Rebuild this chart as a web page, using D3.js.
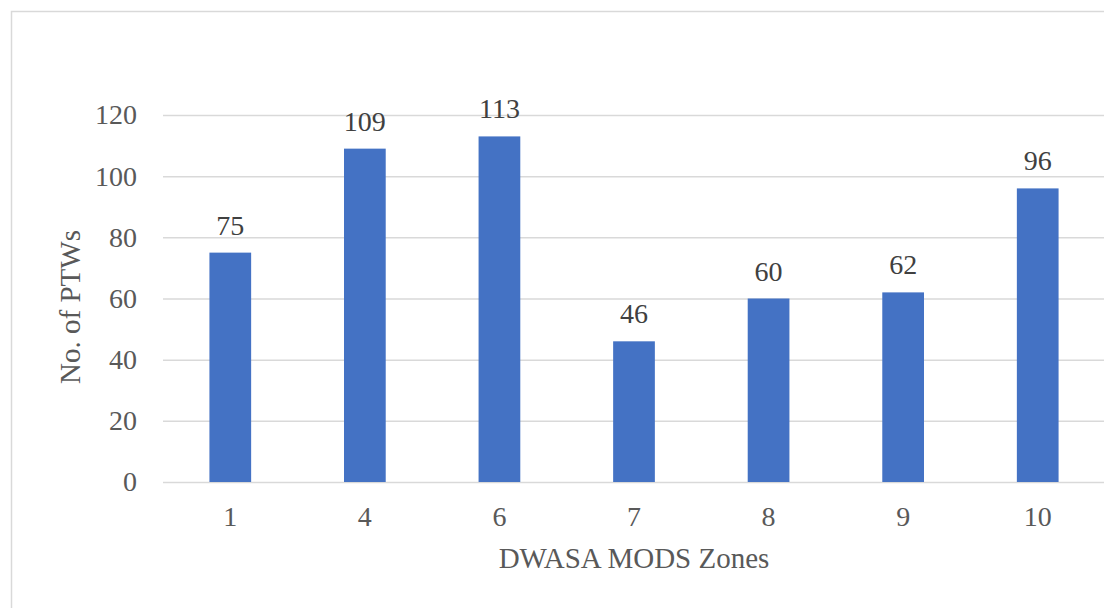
<!DOCTYPE html>
<html>
<head>
<meta charset="utf-8">
<script src="https://d3js.org/d3.v7.min.js"></script>
<style>
  body { margin: 0; background: #fff; }
  text { font-family: "Liberation Serif", "Times New Roman", serif; }
</style>
</head>
<body>
<svg id="chart"></svg>
<script>
// chart data
var zones = ["1", "4", "6", "7", "8", "9", "10"];
var ptws = [75, 109, 113, 46, 60, 62, 96];
var yTicks = [0, 20, 40, 60, 80, 100, 120];

var W = 1104, H = 608;
var margin = { top: 115, right: -1, bottom: 126, left: 163 };
var width = W - margin.left - margin.right,
  height = H - margin.top - margin.bottom;

var svg = d3.select("#chart")
  .attr("width", W)
  .attr("height", H);

// outer chart border (runs off the right and bottom edge)
svg.append("rect")
  .attr("x", 11.5)
  .attr("y", 11.5)
  .attr("width", W + 20)
  .attr("height", H + 20)
  .attr("fill", "none")
  .attr("stroke", "#d9d9d9")
  .attr("stroke-width", 1.5);

var g = svg.append("g")
  .attr("transform", "translate(" + margin.left + "," + margin.top + ")");

var x = d3.scaleBand()
  .domain(zones)
  .range([0, width])
  .paddingInner(0.69)
  .paddingOuter(0.345);

var y = d3.scaleLinear()
  .domain([0, 120])
  .range([height, 0]);

// gridlines
g.append("g")
  .attr("class", "grid")
  .call(d3.axisLeft(y).tickValues(yTicks).tickSize(-width).tickFormat(""))
  .call(function (s) { s.select(".domain").remove(); })
  .selectAll("line")
  .attr("stroke", "#d9d9d9")
  .attr("stroke-width", 1.5);

// y axis labels
g.append("g")
  .call(d3.axisLeft(y).tickValues(yTicks).tickSize(0).tickPadding(26))
  .call(function (s) { s.select(".domain").remove(); })
  .selectAll("text")
  .attr("font-family", "Liberation Serif")
  .attr("font-size", "28px")
  .attr("fill", "#595959");

// x axis labels
g.append("g")
  .attr("transform", "translate(0," + height + ")")
  .call(d3.axisBottom(x).tickSize(0).tickPadding(24))
  .call(function (s) { s.select(".domain").remove(); })
  .selectAll("text")
  .attr("font-family", "Liberation Serif")
  .attr("font-size", "28px")
  .attr("fill", "#595959");

// bars
g.selectAll(".bar")
  .data(ptws)
  .enter().append("rect")
  .attr("class", "bar")
  .attr("x", function (d, i) { return x(zones[i]); })
  .attr("y", function (d) { return y(d); })
  .attr("width", x.bandwidth())
  .attr("height", function (d) { return y(0) - y(d); })
  .attr("fill", "#4472c4");

// value labels
g.selectAll(".val")
  .data(ptws)
  .enter().append("text")
  .attr("class", "val")
  .attr("x", function (d, i) { return x(zones[i]) + x.bandwidth() / 2; })
  .attr("y", function (d) { return y(d) - 18; })
  .attr("text-anchor", "middle")
  .attr("font-size", "28px")
  .attr("fill", "#404040")
  .text(function (d) { return d; });

// axis titles
svg.append("text")
  .attr("x", 634)
  .attr("y", 568)
  .attr("text-anchor", "middle")
  .attr("font-size", "29px")
  .attr("fill", "#595959")
  .text("DWASA MODS Zones");

svg.append("text")
  .attr("transform", "translate(80,307) rotate(-90)")
  .attr("text-anchor", "middle")
  .attr("font-size", "29px")
  .attr("fill", "#595959")
  .text("No. of PTWs");
</script>
</body>
</html>
